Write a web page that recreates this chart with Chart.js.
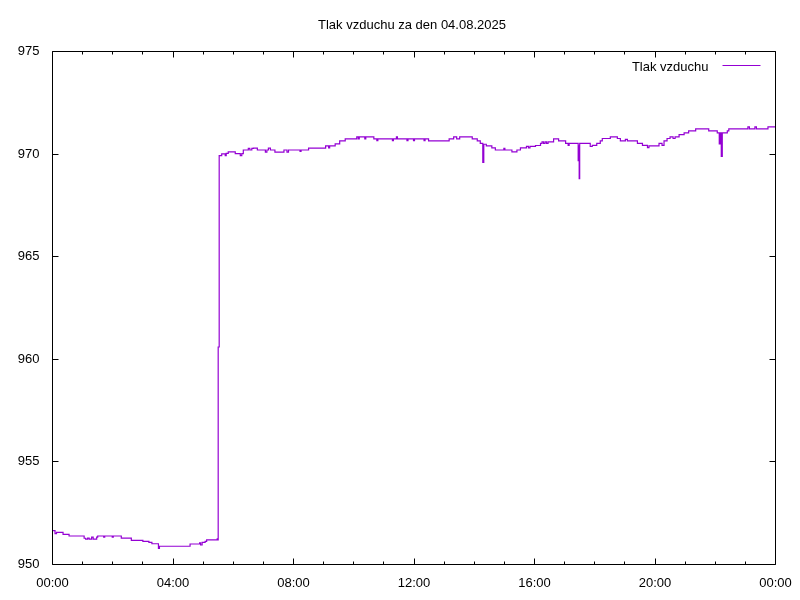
<!DOCTYPE html>
<html>
<head>
<meta charset="utf-8">
<title>Tlak vzduchu</title>
<script src="https://cdn.jsdelivr.net/npm/chart.js@4.4.1/dist/chart.umd.min.js"></script>
<style>
  html, body { margin: 0; padding: 0; background: #fff; }
  canvas { display: block; }
</style>
</head>
<body>
<canvas id="chart" width="800" height="600"></canvas>
<script>
const title = 'Tlak vzduchu za den 04.08.2025';
const seriesLabel = 'Tlak vzduchu';

// minutes since midnight
const minutes = [
  0, 4, 5, 8, 20, 21, 32, 33, 61, 63, 66, 70, 73, 78, 81, 88, 90, 100, 102, 104,
  118, 119, 121, 135, 137, 154, 157, 178, 180, 191, 192, 198, 208, 211, 213, 272, 274, 290, 293, 295,
  298, 304, 307, 326, 328, 329, 330, 332,
  337, 343, 344, 346, 350, 363, 364, 372, 374, 377, 380, 387, 390, 393, 397, 400, 408, 423, 424, 427,
  430, 434, 442, 443, 460, 461, 466, 467, 470, 492, 493, 495, 509, 510, 543, 544, 549, 550, 552, 563,
  572, 583, 606, 608, 609, 611, 621, 622, 624, 639, 640, 645, 646, 648, 676, 677, 679, 685, 687,
  692, 705, 706, 708, 718, 719, 721, 738, 740, 742, 749, 788, 790, 799, 804, 805, 808, 811, 835, 836,
  846, 852, 856, 857, 859, 864, 875, 882, 898, 899, 901, 915, 924, 925, 932, 944, 948, 951, 962, 972,
  975, 978, 981, 984, 987, 998, 1008, 1022, 1027, 1029, 1046, 1047, 1048, 1049, 1050,
  1070, 1071, 1075, 1084, 1091, 1095, 1111, 1124, 1125, 1131, 1135, 1141, 1145, 1165, 1175, 1185, 1188,
  1207, 1208, 1214, 1218, 1224, 1230, 1236, 1240, 1248, 1258, 1267, 1281, 1307, 1324, 1326, 1328, 1330,
  1332, 1334, 1344, 1347, 1384, 1385, 1388, 1398, 1399, 1402, 1424, 1425, 1440
];

// hPa
const pressure = [
  951.65, 951.65, 951.5, 951.57, 951.57, 951.47, 951.47, 951.39, 951.39, 951.28, 951.24, 951.29, 951.24, 951.33, 951.24, 951.33, 951.39, 951.39, 951.33, 951.39,
  951.39, 951.33, 951.39, 951.39, 951.29, 951.29, 951.18, 951.18, 951.13, 951.13, 951.08, 951.01, 951.01, 950.79, 950.89, 950.89, 951.0, 951.0, 951.05, 950.95,
  951.08, 951.13, 951.2, 951.2, 951.25, 951.2, 960.6, 969.93,
  970.01, 970.01, 969.93, 970.04, 970.11, 970.11, 970.02, 970.02, 969.93, 970.02, 970.2, 970.2, 970.28, 970.2, 970.28, 970.29, 970.2, 970.2, 970.1, 970.2,
  970.29, 970.2, 970.2, 970.1, 970.1, 970.2, 970.2, 970.1, 970.2, 970.2, 970.13, 970.2, 970.2, 970.29, 970.29, 970.4, 970.4, 970.3, 970.4, 970.5,
  970.64, 970.74, 970.84, 970.84, 970.74, 970.84, 970.84, 970.74, 970.84, 970.84, 970.74, 970.74, 970.65, 970.74, 970.74, 970.65, 970.74, 970.84, 970.74,
  970.74, 970.74, 970.65, 970.74, 970.74, 970.65, 970.74, 970.74, 970.65, 970.74, 970.64, 970.64, 970.74, 970.84, 970.84, 970.74, 970.74, 970.84, 970.84, 970.74,
  970.64, 970.52, 970.52, 969.6, 970.48, 970.4, 970.3, 970.2, 970.2, 970.28, 970.2, 970.11, 970.11, 970.2, 970.3, 970.38, 970.3, 970.38, 970.42, 970.52,
  970.6, 970.52, 970.6, 970.52, 970.6, 970.74, 970.64, 970.52, 970.43, 970.52, 970.52, 969.68, 970.4, 968.8, 970.52,
  970.52, 970.37, 970.43, 970.52, 970.64, 970.76, 970.84, 970.84, 970.76, 970.64, 970.64, 970.72, 970.64, 970.52, 970.43, 970.32, 970.4,
  970.4, 970.52, 970.43, 970.64, 970.76, 970.84, 970.76, 970.84, 970.95, 971.03, 971.13, 971.23, 971.13, 971.03, 971.03, 970.5, 971.03,
  969.89, 971.03, 971.13, 971.23, 971.23, 971.33, 971.23, 971.23, 971.33, 971.23, 971.23, 971.33, 971.33
];

const yTicks = [950, 955, 960, 965, 970, 975];
const xTickLabels = ['00:00', '04:00', '08:00', '12:00', '16:00', '20:00', '00:00'];

const FONT_FAMILY = '"Liberation Sans", Arial, sans-serif';
const PURPLE = '#9400d3';

// gnuplot look: border, inward ticks on all sides, title and key
const gnuplotFrame = {
  id: 'gnuplotFrame',
  afterDraw(chart) {
    const { ctx, chartArea: a, scales: { x, y } } = chart;
    ctx.save();
    ctx.strokeStyle = '#000';
    ctx.lineWidth = 1;
    ctx.beginPath();
    ctx.rect(a.left, a.top, a.right - a.left, a.bottom - a.top);
    for (let m = 0; m <= 1440; m += 60) {
      const px = Math.round(x.getPixelForValue(m) - 0.5) + 0.5;
      const len = m % 240 === 0 ? 6 : 3;
      ctx.moveTo(px, a.bottom); ctx.lineTo(px, a.bottom - len);
      ctx.moveTo(px, a.top); ctx.lineTo(px, a.top + len);
    }
    yTicks.forEach(v => {
      const py = Math.round(y.getPixelForValue(v) - 0.5) + 0.5;
      ctx.moveTo(a.left, py); ctx.lineTo(a.left + 6, py);
      ctx.moveTo(a.right, py); ctx.lineTo(a.right - 6, py);
    });
    ctx.stroke();

    ctx.fillStyle = '#000';
    ctx.font = '13px ' + FONT_FAMILY;
    ctx.textAlign = 'center';
    ctx.textBaseline = 'middle';
    ctx.fillText(title, (a.left + a.right) / 2 - 2, 25);

    ctx.textAlign = 'right';
    ctx.fillText(seriesLabel, a.right - 67, 67);
    ctx.strokeStyle = PURPLE;
    ctx.beginPath();
    ctx.moveTo(a.right - 53, 65.5);
    ctx.lineTo(a.right - 15, 65.5);
    ctx.stroke();
    ctx.restore();
  }
};

new Chart(document.getElementById('chart'), {
  type: 'line',
  data: {
    datasets: [{
      label: seriesLabel,
      data: minutes.map((m, i) => ({ x: m, y: pressure[i] })),
      borderColor: PURPLE,
      borderWidth: 1.2,
      pointRadius: 0,
      fill: false,
      stepped: true
    }]
  },
  options: {
    responsive: false,
    animation: false,
    devicePixelRatio: 1,
    layout: { padding: { top: 51.5, right: 24.5, left: 0, bottom: 0 } },
    plugins: {
      legend: { display: false },
      title: { display: false },
      tooltip: { enabled: false }
    },
    scales: {
      x: {
        type: 'linear',
        min: 0,
        max: 1440,
        afterFit: scale => {
          scale.height = 35.5;
          scale.paddingLeft = 0;
          scale.paddingRight = 0;
        },
        grid: { display: false, drawTicks: false },
        border: { display: false },
        ticks: {
          stepSize: 240,
          autoSkip: false,
          maxRotation: 0,
          padding: 11,
          color: '#000',
          font: { family: FONT_FAMILY, size: 13 },
          callback: v => xTickLabels[v / 240]
        }
      },
      y: {
        min: 950,
        max: 975,
        afterFit: scale => {
          scale.width = 52.5;
          scale.paddingTop = 0;
          scale.paddingBottom = 0;
        },
        grid: { display: false, drawTicks: false },
        border: { display: false },
        ticks: {
          stepSize: 5,
          padding: 13,
          color: '#000',
          font: { family: FONT_FAMILY, size: 13 }
        }
      }
    }
  },
  plugins: [gnuplotFrame]
});
</script>
</body>
</html>
